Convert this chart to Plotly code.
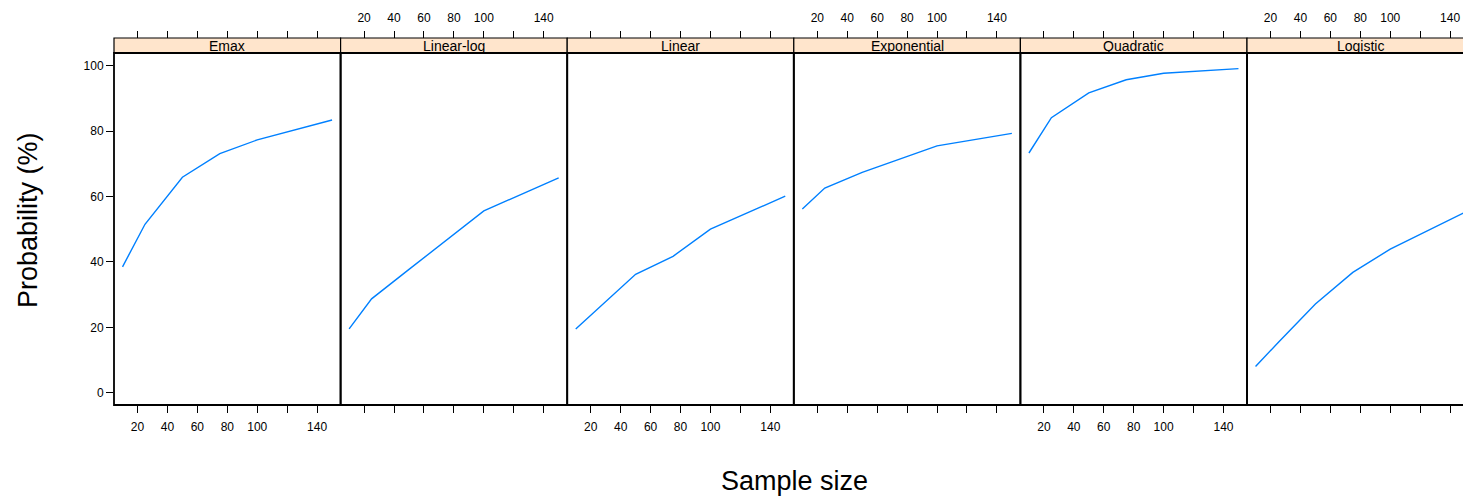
import plotly.graph_objects as go

sample_sizes = [10, 25, 50, 75, 100, 150]
models = ["Emax", "Linear-log", "Linear", "Exponential", "Quadratic", "Logistic"]
emax = [38.5, 51.5, 65.9, 73.1, 77.3, 83.4]
linear_log = [19.5, 28.7, 37.7, 46.7, 55.6, 65.7]
linear = [19.5, 25.7, 36.2, 41.7, 50.0, 60.1]
exponential = [56.2, 62.6, 67.4, 71.4, 75.5, 79.3]
quadratic = [73.3, 84.1, 91.7, 95.7, 97.7, 99.1]
logistic = [8.0, 15.3, 27.1, 36.8, 43.9, 55.2]
series = [emax, linear_log, linear, exponential, quadratic, logistic]

x_tickvals = [20, 40, 60, 80, 100, 120, 140]
x_ticktext = ["20", "40", "60", "80", "100", "", "140"]
y_tickvals = [0, 20, 40, 60, 80, 100]

W, H = 1463, 496
LEFT = 114.0
PW = 226.6
PLOT_TOP, PLOT_BOT = 53.0, 405.0
STRIP_TOP = 38.0
XMIN, XMAX = 4.3, 155.7
PX_PER_UNIT = PW / (XMAX - XMIN)
YMIN, YMAX = -3.76, 103.88

def px(x):
    return x / W

def py(y):
    return 1 - y / H

LINE_COL = "#0080ff"
STRIP_COL = "#ffe5cc"
FONT = "Liberation Sans, Arial, Helvetica, sans-serif"

fig = go.Figure()
layout = dict(
    width=W, height=H, margin=dict(l=0, r=0, t=0, b=0),
    paper_bgcolor="white", plot_bgcolor="white", showlegend=False,
    font=dict(family=FONT, size=12, color="black"),
)
shapes = []
annotations = []

for i, (name, vals) in enumerate(zip(models, series)):
    k = i + 1
    x0 = LEFT + i * PW
    x1 = x0 + PW
    rng_max = XMAX
    d1 = x1
    if x1 > W:
        d1 = W
        rng_max = XMIN + (W - x0) / PX_PER_UNIT
    dom = [px(x0), px(d1)]
    xa = "xaxis" if k == 1 else f"xaxis{k}"
    ya = "yaxis" if k == 1 else f"yaxis{k}"
    xref = "x" if k == 1 else f"x{k}"
    yref = "y" if k == 1 else f"y{k}"
    bottom_labels = (i % 2 == 0)

    fig.add_trace(go.Scatter(x=sample_sizes, y=vals, mode="lines",
                             line=dict(color=LINE_COL, width=1.4),
                             xaxis=xref, yaxis=yref, hoverinfo="skip"))
    layout[xa] = dict(domain=dom, range=[XMIN, rng_max], anchor=yref,
                      showgrid=False, zeroline=False, showline=False,
                      ticks="outside", ticklen=7, tickwidth=1, tickcolor="black",
                      tickvals=x_tickvals, ticktext=x_ticktext,
                      showticklabels=bottom_labels, ticklabelstandoff=4,
                      tickfont=dict(size=12, family=FONT, color="black"))
    ydict = dict(domain=[py(PLOT_BOT), py(PLOT_TOP)], range=[YMIN, YMAX],
                 anchor=xref, showgrid=False, zeroline=False, showline=False)
    if k == 1:
        ydict.update(ticks="outside", ticklen=7, tickwidth=1, tickcolor="black",
                     tickvals=y_tickvals, tickfont=dict(size=12, family=FONT, color="black"))
    else:
        ydict.update(showticklabels=False, ticks="")
    layout[ya] = ydict

    # top axis
    kt = k + 6
    xat = f"xaxis{kt}"
    xreft = f"x{kt}"
    fig.add_trace(go.Scatter(x=sample_sizes, y=vals, mode="lines",
                             line=dict(color="rgba(0,0,0,0)", width=0),
                             xaxis=xreft, yaxis=yref, hoverinfo="skip"))
    layout[xat] = dict(domain=dom, range=[XMIN, rng_max], overlaying=xref,
                       anchor="free", position=py(STRIP_TOP), side="top",
                       showgrid=False, zeroline=False, showline=False,
                       ticks="outside", ticklen=7, tickwidth=1, tickcolor="black",
                       tickvals=x_tickvals, ticktext=x_ticktext,
                       showticklabels=not bottom_labels, ticklabelstandoff=4,
                       tickfont=dict(size=12, family=FONT, color="black"))

    # strip
    shapes.append(dict(type="rect", xref="paper", yref="paper",
                       x0=px(x0), x1=px(x1), y0=py(PLOT_TOP), y1=py(STRIP_TOP),
                       fillcolor=STRIP_COL, line=dict(color="black", width=1.2),
                       layer="below"))
    annotations.append(dict(text=name, xref="paper", yref="paper",
                            x=px((x0 + x1) / 2), y=py((STRIP_TOP + PLOT_TOP) / 2),
                            showarrow=False, xanchor="center", yanchor="middle",
                            font=dict(size=14, family=FONT, color="black")))
    # panel border
    shapes.append(dict(type="rect", xref="paper", yref="paper",
                       x0=px(x0), x1=px(x1), y0=py(PLOT_BOT), y1=py(PLOT_TOP),
                       line=dict(color="black", width=1.8), layer="above"))

annotations.append(dict(text="Probability (%)", xref="paper", yref="paper",
                        x=px(28), y=py(220), textangle=-90, showarrow=False,
                        xanchor="center", yanchor="middle",
                        font=dict(size=27, family=FONT, color="black")))
annotations.append(dict(text="Sample size", xref="paper", yref="paper",
                        x=px(794), y=py(481), showarrow=False,
                        xanchor="center", yanchor="middle",
                        font=dict(size=27, family=FONT, color="black")))

layout["shapes"] = shapes
layout["annotations"] = annotations
fig.update_layout(**layout)
fig.write_html("out.html")
